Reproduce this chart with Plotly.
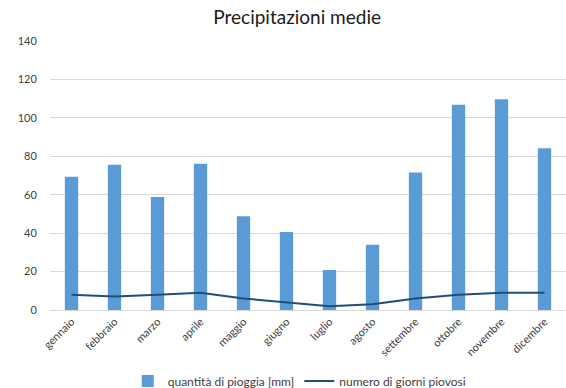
import plotly.graph_objects as go

mesi = ["gennaio", "febbraio", "marzo", "aprile", "maggio", "giugno",
        "luglio", "agosto", "settembre", "ottobre", "novembre", "dicembre"]
pioggia_mm = [69.3, 75.6, 58.8, 76.1, 48.8, 40.6, 20.8, 33.9, 71.6, 106.8, 109.7, 84.2]
giorni_piovosi = [8, 7, 8, 9, 6, 4, 2, 3, 6, 8, 9, 9]
y_ticks = [0, 20, 40, 60, 80, 100, 120, 140]

font_family = "Lato, 'Open Sans', sans-serif"

fig = go.Figure()
fig.add_trace(go.Bar(
    x=mesi, y=pioggia_mm, name="quantità di pioggia [mm]",
    marker=dict(color="#5b9bd5", line=dict(width=0)),
))
fig.add_trace(go.Scatter(
    x=mesi, y=giorni_piovosi, name="numero di giorni piovosi",
    mode="lines", line=dict(color="#1f4e79", width=2),
))

fig.update_layout(
    width=566, height=388,
    margin=dict(l=50, r=0, t=41, b=78, autoexpand=False),
    paper_bgcolor="white", plot_bgcolor="white",
    font=dict(family=font_family, color="#595959", size=10),
    title=dict(text="Precipitazioni medie", x=0.525, xanchor="center",
               y=0.955, yanchor="middle", xref="container",
               font=dict(size=19, color="#1a1a1a", family=font_family)),
    bargap=0.69,
    showlegend=True,
    legend=dict(orientation="h", x=0.484, xanchor="center", y=-0.264, yanchor="middle",
                font=dict(size=12, color="#404040"), itemwidth=30,
                bgcolor="rgba(0,0,0,0)"),
    xaxis=dict(tickangle=-45, showgrid=False, showline=True, linecolor="#d9d9d9",
               linewidth=1, ticks="", automargin=False,
               tickfont=dict(size=11, color="#404040")),
    yaxis=dict(range=[0, 140], tickvals=y_ticks, showgrid=True, gridcolor="#d9d9d9",
               gridwidth=1, zeroline=False, showline=False, ticks="outside",
               ticklen=10, tickcolor="rgba(0,0,0,0)", automargin=False,
               tickfont=dict(size=11, color="#404040")),
)

fig.write_html("out.html", config={"displayModeBar": False},
               post_script="document.body.style.margin='0';")
